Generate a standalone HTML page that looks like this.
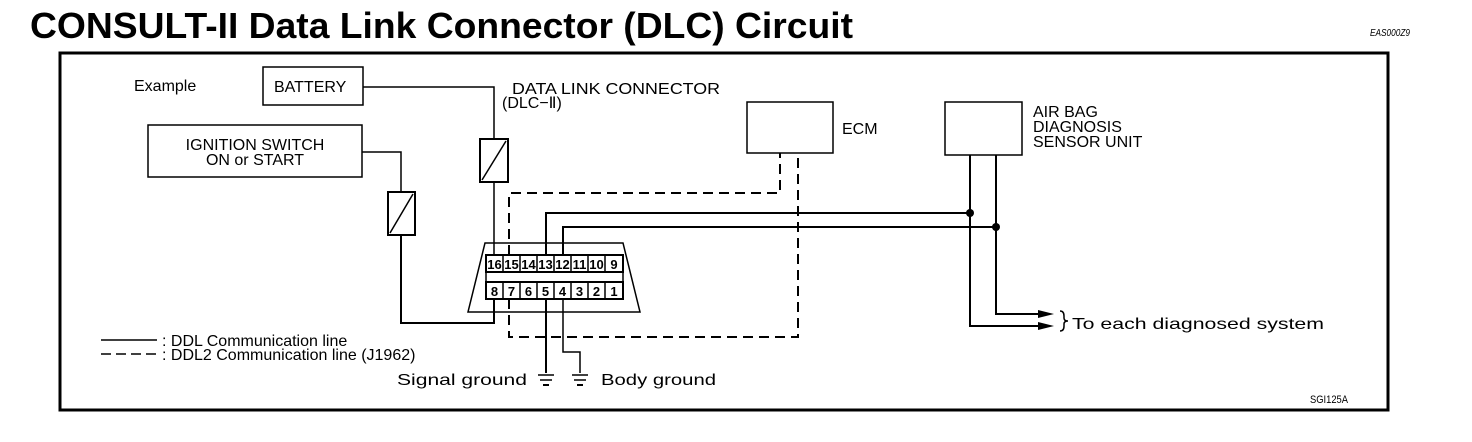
<!DOCTYPE html>
<html><head><meta charset="utf-8"><style>
html,body{margin:0;padding:0;background:#fff;width:1472px;height:442px;overflow:hidden}
svg{display:block}
text{font-family:"Liberation Sans",sans-serif;fill:#000}
</style></head><body>
<svg width="1472" height="442" viewBox="0 0 1472 442" xmlns="http://www.w3.org/2000/svg">
<text x="30" y="38" font-size="36" font-weight="bold" textLength="823" lengthAdjust="spacingAndGlyphs">CONSULT-II Data Link Connector (DLC) Circuit</text>
<text x="1370" y="36" font-size="10" font-style="italic" textLength="40" lengthAdjust="spacingAndGlyphs">EAS000Z9</text>
<rect x="60" y="53" width="1328" height="357" fill="none" stroke="#000" stroke-width="3"/>
<g fill="none" stroke="#000" stroke-width="1.5">
<rect x="263" y="67" width="100" height="38"/>
<rect x="148" y="125" width="214" height="52"/>
<rect x="747" y="102" width="86" height="51"/>
<rect x="945" y="102" width="77" height="53"/>
<!-- battery wire -->
<polyline points="363,87 494,87 494,139"/>
<rect x="480" y="139" width="28" height="43" stroke-width="2"/>
<line x1="482" y1="180" x2="506" y2="141"/>
<line x1="494" y1="182" x2="494" y2="255"/>
<!-- ignition wire -->
<polyline points="362,152 401,152 401,192"/>
<rect x="388" y="192" width="27" height="43" stroke-width="2"/>
<line x1="390" y1="233" x2="413" y2="194"/>
<polyline points="401,235 401,323 494,323 494,299" stroke-width="2"/>
<!-- connector -->
<polygon points="485,243 623,243 640,312 468,312"/>
<rect x="486" y="255" width="137" height="17" stroke-width="2"/>
<rect x="486" y="272" width="137" height="10"/>
<rect x="486" y="282" width="137" height="17" stroke-width="2"/>
<!-- pin 13/12 lines -->
<polyline points="546,255 546,213 970,213 970,155" stroke-width="2"/>
<polyline points="563,255 563,227 996,227 996,155" stroke-width="2"/>
<polyline points="970,213 970,326 1042,326" stroke-width="2"/>
<polyline points="996,227 996,314 1042,314" stroke-width="2"/>
<!-- grounds -->
<line x1="546" y1="299" x2="546" y2="373" stroke-width="2"/>
<polyline points="563,299 563,352 580,352 580,373"/>
<!-- dashed -->
<polyline points="509,255 509,193 780,193 780,153" stroke-dasharray="10,6" stroke-width="2"/>
<polyline points="509,299 509,337 798,337 798,153" stroke-dasharray="10,6" stroke-width="2"/>
<!-- legend -->
<line x1="101" y1="340" x2="157" y2="340"/>
<line x1="101" y1="354" x2="157" y2="354" stroke-dasharray="10,5"/>
<!-- brace -->
<path d="M1060,311 q4,0 4,5 v2 q0,3 4,3 q-4,0 -4,3 v2 q0,5 -4,5"/>
</g>
<!-- ground symbols -->
<g stroke="#000" stroke-width="1.5">
<line x1="538" y1="375" x2="554" y2="375"/><line x1="540" y1="380" x2="552" y2="380"/><line x1="543" y1="385" x2="549" y2="385" stroke-width="2"/>
<line x1="572" y1="375" x2="588" y2="375"/><line x1="574" y1="380" x2="586" y2="380"/><line x1="577" y1="385" x2="583" y2="385" stroke-width="2"/>
</g>
<circle cx="970" cy="213" r="4"/><circle cx="996" cy="227" r="4"/>
<polygon points="1038,310 1054,314 1038,318"/><polygon points="1038,322 1054,326 1038,330"/>
<!-- pin numbers -->
<g font-size="13" font-weight="bold" text-anchor="middle">
<text x="494.5" y="269">16</text><text x="511.5" y="269">15</text><text x="528.5" y="269">14</text><text x="545.5" y="269">13</text><text x="562.5" y="269">12</text><text x="579.5" y="269">11</text><text x="596.5" y="269">10</text><text x="614" y="269">9</text>
<text x="494.5" y="296">8</text><text x="511.5" y="296">7</text><text x="528.5" y="296">6</text><text x="545.5" y="296">5</text><text x="562.5" y="296">4</text><text x="579.5" y="296">3</text><text x="596.5" y="296">2</text><text x="614" y="296">1</text>
</g>
<g stroke="#000" stroke-width="1.5">
<line x1="503" y1="255" x2="503" y2="272"/><line x1="520" y1="255" x2="520" y2="272"/><line x1="537" y1="255" x2="537" y2="272"/><line x1="554" y1="255" x2="554" y2="272"/><line x1="571" y1="255" x2="571" y2="272"/><line x1="588" y1="255" x2="588" y2="272"/><line x1="605" y1="255" x2="605" y2="272"/>
<line x1="503" y1="282" x2="503" y2="299"/><line x1="520" y1="282" x2="520" y2="299"/><line x1="537" y1="282" x2="537" y2="299"/><line x1="554" y1="282" x2="554" y2="299"/><line x1="571" y1="282" x2="571" y2="299"/><line x1="588" y1="282" x2="588" y2="299"/><line x1="605" y1="282" x2="605" y2="299"/>
</g>
<g font-size="16">
<text x="134" y="91">Example</text>
<text x="274" y="92">BATTERY</text>
<text x="255" y="150" text-anchor="middle">IGNITION SWITCH</text>
<text x="255" y="165" text-anchor="middle">ON or START</text>
<text x="512" y="94" textLength="208" lengthAdjust="spacingAndGlyphs">DATA LINK CONNECTOR</text>
<text x="502" y="108">(DLC−Ⅱ)</text>
<text x="842" y="134">ECM</text>
<text x="1033" y="117">AIR BAG</text>
<text x="1033" y="132">DIAGNOSIS</text>
<text x="1033" y="147">SENSOR UNIT</text>
<text x="1072" y="329" textLength="252" lengthAdjust="spacingAndGlyphs">To each diagnosed system</text>
<text x="162" y="346">: DDL Communication line</text>
<text x="162" y="360">: DDL2 Communication line (J1962)</text>
<text x="397" y="385" textLength="130" lengthAdjust="spacingAndGlyphs">Signal ground</text>
<text x="601" y="385" textLength="115" lengthAdjust="spacingAndGlyphs">Body ground</text>
</g>
<text x="1310" y="403" font-size="11" textLength="38" lengthAdjust="spacingAndGlyphs">SGI125A</text>
</svg>
</body></html>
